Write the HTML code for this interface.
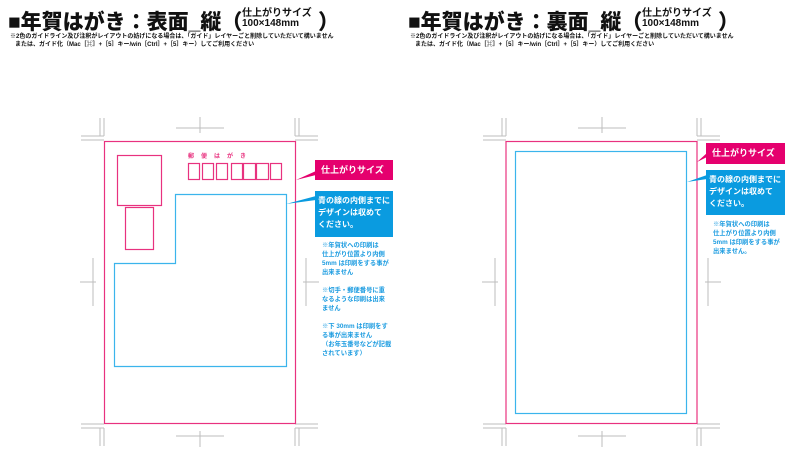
<!DOCTYPE html>
<html><head><meta charset="utf-8"><style>
html,body{margin:0;padding:0;background:#fff;}
body{width:800px;height:457px;position:relative;overflow:hidden;font-family:"Liberation Sans","Noto Sans CJK JP",sans-serif;}
.t{position:absolute;white-space:nowrap;color:#111;}
.h{font-weight:900;font-size:21px;top:6px;letter-spacing:0px;}
.s{font-weight:700;font-size:10px;line-height:10px;}
.n{font-size:6px;line-height:8px;font-weight:700;}
.lab{position:absolute;color:#fff;font-weight:700;font-size:8px;line-height:12px;white-space:nowrap;}
.note{position:absolute;color:#1a9be0;font-size:6.3px;line-height:9px;font-weight:700;white-space:nowrap;}
</style></head><body>
<svg width="800" height="457" style="position:absolute;left:0;top:0">
<defs>
<g id="cm" stroke="#bdbdbd" stroke-width="1" fill="none">
<path d="M-4,-23V-5M0,-23V-5M-23,-5H0M-23,-1H0"/>
<path d="M195,-23V-5M191,-23V-5M191,-5H214M191,-1H214"/>
<path d="M-4,305V287M0,305V287M-23,287H0M-23,283H0"/>
<path d="M195,305V287M191,305V287M191,287H214M191,283H214"/>
<path d="M72,-13H120M96,-24V-8"/>
<path d="M72,295H120M96,290V306"/>
<path d="M-11,117V165M-24,141H-8"/>
<path d="M202,117V165M199,141H215"/>
</g>
</defs>
<use href="#cm" x="104" y="141"/>
<use href="#cm" x="506" y="141"/>
<rect x="104.5" y="141.5" width="191" height="282" fill="none" stroke="#e8327f" stroke-width="1.2"/>
<rect x="117.5" y="155.5" width="44" height="50" fill="none" stroke="#e8327f" stroke-width="1.2"/>
<rect x="125.5" y="207.5" width="28" height="42" fill="none" stroke="#e8327f" stroke-width="1.2"/>
<g fill="none" stroke="#e8327f" stroke-width="1.2">
<rect x="188.5" y="163.5" width="11" height="16"/><rect x="202.5" y="163.5" width="11" height="16"/><rect x="216.5" y="163.5" width="11" height="16"/>
<rect x="231.5" y="163.5" width="11" height="16"/><rect x="243.5" y="163.5" width="12" height="16"/><rect x="256.5" y="163.5" width="12" height="16"/><rect x="270.5" y="163.5" width="11" height="16"/>
</g>
<text x="188" y="158" font-size="6" font-weight="700" fill="#e8327f" font-family="Noto Sans CJK JP" letter-spacing="7">郵便はがき</text>
<path d="M175.5,194.5H286.5V366.5H114.5V263.5H175.5Z" fill="none" stroke="#3bb4ec" stroke-width="1.2"/>
<rect x="315" y="160" width="78" height="20" fill="#e5006e"/>
<path d="M296,180L316,175V171Z" fill="#e5006e"/>
<rect x="315" y="191" width="78" height="46" fill="#0a9be0"/>
<path d="M286,204L316,200V196Z" fill="#0a9be0"/>
<rect x="506" y="141.5" width="191" height="282" fill="none" stroke="#e8327f" stroke-width="1.2"/>
<rect x="515.5" y="151.5" width="171" height="262" fill="none" stroke="#3bb4ec" stroke-width="1.2"/>
<rect x="706" y="143" width="79" height="21" fill="#e5006e"/>
<path d="M697,162L707,157V153Z" fill="#e5006e"/>
<rect x="706" y="170" width="79" height="45" fill="#0a9be0"/>
<path d="M687,182L707,179V175Z" fill="#0a9be0"/>
</svg>
<div class="t h" style="left:8px">■年賀はがき：表面_縦（</div>
<div class="t s" style="left:242px;top:9px">仕上がりサイズ<br>100×148mm</div>
<div class="t h" style="left:318px">）</div>
<div class="t n" style="left:10px;top:33px">※2色のガイドライン及び注釈がレイアウトの妨げになる場合は、「ガイド」レイヤーごと削除していただいて構いません<br>&nbsp;&nbsp;&nbsp;または、ガイド化（Mac［⌘］+［5］キー/win［Ctrl］+［5］キー）してご利用ください</div>
<div class="t h" style="left:408px">■年賀はがき：裏面_縦（</div>
<div class="t s" style="left:642px;top:9px">仕上がりサイズ<br>100×148mm</div>
<div class="t h" style="left:718px">）</div>
<div class="t n" style="left:410px;top:33px">※2色のガイドライン及び注釈がレイアウトの妨げになる場合は、「ガイド」レイヤーごと削除していただいて構いません<br>&nbsp;&nbsp;&nbsp;または、ガイド化（Mac［⌘］+［5］キー/win［Ctrl］+［5］キー）してご利用ください</div>
<div class="lab" style="left:321px;top:164px;font-size:9px">仕上がりサイズ</div>
<div class="lab" style="left:318px;top:195px">青の線の内側までに<br>デザインは収めて<br>ください。</div>
<div class="note" style="left:322px;top:241px">※年賀状への印刷は<br>仕上がり位置より内側<br>5mm は印刷をする事が<br>出来ません<br><br>※切手・郵便番号に重<br>なるような印刷は出来<br>ません<br><br>※下 30mm は印刷をす<br>る事が出来ません<br>（お年玉番号などが記載<br>されています）</div>
<div class="lab" style="left:712px;top:147px;font-size:9px">仕上がりサイズ</div>
<div class="lab" style="left:709px;top:174px">青の線の内側までに<br>デザインは収めて<br>ください。</div>
<div class="note" style="left:713px;top:220px">※年賀状への印刷は<br>仕上がり位置より内側<br>5mm は印刷をする事が<br>出来ません。</div>
</body></html>
